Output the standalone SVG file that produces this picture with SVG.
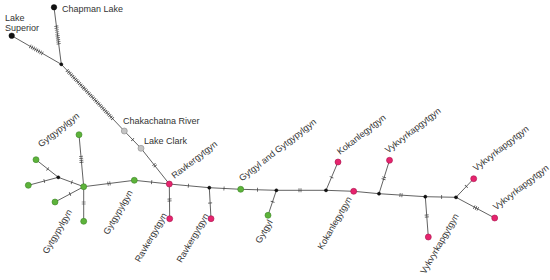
<svg xmlns="http://www.w3.org/2000/svg" width="550" height="280" viewBox="0 0 550 280">
<style>
.e{stroke:#3a3a3a;stroke-width:0.8;fill:none}
.tk{stroke:#3a3a3a;stroke-width:4;stroke-dasharray:0.7 1.3;fill:none}
.g{fill:#5db33a;stroke:#3b8526;stroke-width:0.6}
.p{fill:#e6246e;stroke:#a8124c;stroke-width:0.6}
.s{fill:#c4c4c4;stroke:#8a8a8a;stroke-width:0.6}
.b{fill:#111;stroke:#000;stroke-width:0.4}
text{font-family:"Liberation Sans",Arial,sans-serif;font-size:9px;fill:#333}
.u{text-anchor:start}
.d{text-anchor:end}
</style>
<rect width="550" height="280" fill="#fff"/>
<g id="connectors">
<path class="e" d="M54,7.3L61.3,64.3M11.7,35.7L61.3,64.3M61.3,64.3L124.3,131L141,148.3L169.3,184L134.3,180.3L83.7,186.7M83.7,186.7L79,134.7M83.7,186.7L83.7,221.3M83.7,186.7L55,202M83.7,186.7L58.3,177.3L36,159.7M58.3,177.3L28.3,185.3M169.3,184L169.7,218.7M169.3,184L209.3,187.7L211,218.7M209.3,187.7L240.7,189.3L276.4,190.3L268,215.3M276.4,190.3L326,190.3L338,162M326,190.3L353.7,191.3L379,193.7L389.5,160.3M379,193.7L425.3,196.7L428.3,237M425.3,196.7L456,197.3L473.7,178.7M456,197.3L494.7,218"/>
<path class="tk" d="M56.3,25.7L58.7,44.3M29.94,46.2L42.66,53.6M66.97,70.3L112.8,118.8M132.4,139.4L132.9,139.9M153.76,164.14L155.44,166.26M152.05,182.18L151.35,182.1M110.34,183.33L107.66,183.67M81.52,162.64L80.92,155.96M83.7,201.65L83.7,204.35M70.31,193.84L69.69,194.16M72.03,182.38L71.37,182.14M47.97,169.16L47.43,168.72M44.64,180.94L43.96,181.12M169.5,198.65L169.55,201.35M187.95,185.73L188.65,185.79M210.11,202.65L210.15,203.35M223.65,188.43L224.35,188.47M257.15,189.8L257.85,189.84M272.71,201.37L272.49,202.03M298.65,190.3L301.35,190.3M331.36,177.62L331.64,176.98M383.44,179.59L384.25,177.01M399.65,195.0L402.35,195.2M426.64,214.65L426.84,217.35M441.35,197L442.05,197M466.06,186.72L466.54,186.22M473.93,206.89L478.07,209.11"/>
</g>
<g id="chapman-lake"><circle class="b" cx="54" cy="7.3" r="2.8"/><text x="62" y="12">Chapman Lake</text></g>
<g id="lake-superior"><circle class="b" cx="11.7" cy="35.7" r="2.8"/><text x="5" y="21">Lake</text><text x="5" y="31">Superior</text></g>
<g id="jt"><circle class="b" cx="61.3" cy="64.3" r="1.6"/></g>
<g id="chakachatna"><circle class="s" cx="124.3" cy="131" r="3"/><text x="123" y="124">Chakachatna River</text></g>
<g id="lake-clark"><circle class="s" cx="141" cy="148.3" r="3"/><text x="144" y="143.5">Lake Clark</text></g>
<g id="hub"><circle class="g" cx="83.7" cy="186.7" r="3"/><text class="d" transform="translate(72.3,211.7) rotate(-60)">Gytgypylgyn</text></g>
<g id="g-top"><circle class="g" cx="79" cy="134.7" r="3"/></g>
<g id="g-bottom"><circle class="g" cx="83.7" cy="221.3" r="3"/></g>
<g id="g-lb"><circle class="g" cx="55" cy="202" r="3"/></g>
<g id="jl"><circle class="b" cx="58.3" cy="177.3" r="1.6"/></g>
<g id="g-tl"><circle class="g" cx="36" cy="159.7" r="3"/><text class="u" transform="translate(41,147.5) rotate(-38)">Gytgypylgyn</text></g>
<g id="g-fl"><circle class="g" cx="28.3" cy="185.3" r="3"/></g>
<g id="g2"><circle class="g" cx="134.3" cy="180.3" r="3"/><text class="d" transform="translate(133,192.4) rotate(-60)">Gytgypylgyn</text></g>
<g id="r1"><circle class="p" cx="169.3" cy="184" r="3"/><text class="u" transform="translate(174.5,179) rotate(-38)">Ravkergytgyn</text></g>
<g id="r1b"><circle class="p" cx="169.7" cy="218.7" r="3"/><text class="d" transform="translate(167.3,215.1) rotate(-60)">Ravkergytgyn</text></g>
<g id="j1"><circle class="b" cx="209.3" cy="187.7" r="1.6"/></g>
<g id="j1b"><circle class="p" cx="211" cy="218.7" r="3"/><text class="d" transform="translate(209,215.7) rotate(-60)">Ravkergytgyn</text></g>
<g id="g3"><circle class="g" cx="240.7" cy="189.3" r="3"/><text class="u" transform="translate(242,181.5) rotate(-38)">Gytgyl and Gytgypylgyn</text></g>
<g id="j2"><circle class="b" cx="276.4" cy="190.3" r="1.6"/></g>
<g id="gytgyl"><circle class="g" cx="268" cy="215.3" r="3"/><text class="d" transform="translate(273,222) rotate(-60)">Gytgyl</text></g>
<g id="j3"><circle class="b" cx="326" cy="190.3" r="1.6"/></g>
<g id="k-top"><circle class="p" cx="338" cy="162" r="3"/><text class="u" transform="translate(340,155) rotate(-38)">Kokanlegytgyn</text></g>
<g id="k-main"><circle class="p" cx="353.7" cy="191.3" r="3"/><text class="d" transform="translate(352,199) rotate(-60)">Kokanlegytgyn</text></g>
<g id="j4"><circle class="b" cx="379" cy="193.7" r="1.6"/></g>
<g id="v1"><circle class="p" cx="389.5" cy="160.3" r="3"/><text class="u" transform="translate(388,153.5) rotate(-38)">Vykvyrkapgytgyn</text></g>
<g id="j5"><circle class="b" cx="425.3" cy="196.7" r="1.6"/></g>
<g id="v2"><circle class="p" cx="428.3" cy="237" r="3"/><text class="d" transform="translate(459,216) rotate(-60)">Vykvyrkapgytgyn</text></g>
<g id="j6"><circle class="b" cx="456" cy="197.3" r="1.6"/></g>
<g id="v3"><circle class="p" cx="473.7" cy="178.7" r="3"/><text class="u" transform="translate(476,171.5) rotate(-38)">Vykvyrkapgytgyn</text></g>
<g id="v4"><circle class="p" cx="494.7" cy="218" r="3"/><text class="u" transform="translate(496,210.5) rotate(-38)">Vykvyrkapgytgyn</text></g>
</svg>
